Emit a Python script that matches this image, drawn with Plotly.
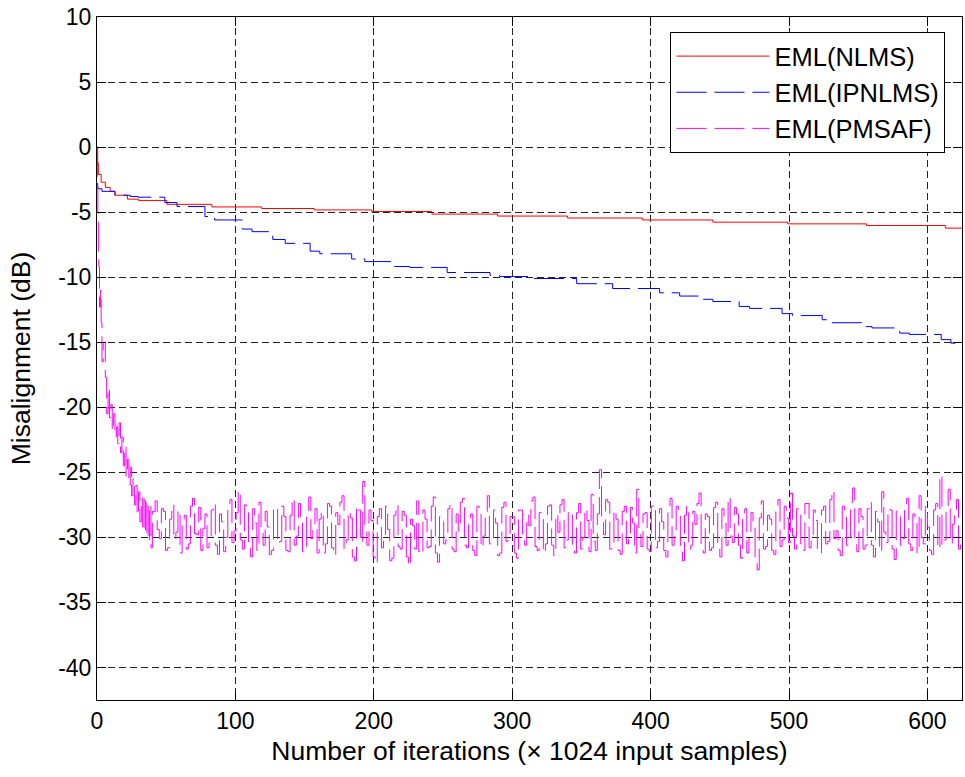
import plotly.graph_objects as go

# ---- data ----
nlms_x = [0, 0.5, 1, 3, 6, 9.5, 13, 22, 30, 50.5, 83, 119, 157, 198.5, 242, 289.5, 340, 394, 445, 499, 556, 613, 625]
nlms_y = [0, -1.2, -2.1, -2.7, -3.1, -3.4, -3.7, -4.0, -4.1, -4.4, -4.6, -4.72, -4.83, -4.95, -5.15, -5.3, -5.45, -5.6, -5.77, -5.9, -6.03, -6.23, -6.23]

ipnlms_x = [0, 0.5, 3.6, 13, 24, 29.6, 49, 57.8, 78, 85, 105, 112, 127, 136, 154, 161, 184, 193.5, 215, 226, 253, 284, 291,
            315, 346.6, 372.6, 406.5, 421, 437, 445, 464, 471.5, 495, 502.5, 524, 531, 553, 560, 580, 587, 610, 617, 625]
ipnlms_y = [-2.8, -3.2, -3.4, -3.7, -3.8, -3.85, -4.26, -4.57, -5.34, -5.6, -6.3, -6.5, -7.1, -7.4, -8.0, -8.2, -8.6, -8.8, -9.18,
            -9.25, -9.64, -9.87, -9.95, -10.1, -10.5, -10.87, -11.2, -11.45, -11.7, -11.87, -12.25, -12.4, -12.8, -12.95, -13.27,
            -13.5, -13.8, -13.9, -14.3, -14.4, -14.8, -15.07, -15.1]

pmsaf_early_x = [0, 0.3, 0.6, 1, 1.3, 1.8, 2.5, 3, 3.6, 4.5, 6, 7, 8, 9, 10, 11, 12, 13, 14, 15, 16, 17, 18, 19, 20,
                 21, 22, 23, 24, 25, 26, 27, 28, 29, 30, 31, 32, 33, 34, 35, 36, 37, 38, 39, 40]
pmsaf_early_y = [0, -3, -5, -8, -9.2, -12.3, -11, -13.5, -16.5, -15, -17.7, -20.5, -18.5, -20.8, -19.8, -21.8, -20.5,
                 -22.3, -21.5, -22.8, -21.2, -23.5, -22.3, -24.5, -23, -25.3, -24, -26, -24.6, -26.8, -25.5, -27.5,
                 -26, -28.3, -26.5, -28.8, -27, -29.5, -26.8, -29.8, -27.2, -30.3, -27.5, -30.8, -28]
# steady-state samples read at iterations 42, 45, ..., 624
pmsaf_steady_a_x = list(range(42, 625, 3))
pmsaf_steady_a_y = [
    -27.2, -30.1, -28.0, -30.8, -27.5, -29.6, -31.2, -28.3, -30.5, -27.0,
    -29.8, -31.0, -28.2, -30.4, -27.4, -31.3, -28.8, -30.0, -27.1, -29.5,
    -26.4, -30.9, -28.1, -31.5, -28.9, -27.3, -30.6, -29.2, -31.0, -27.8,
    -30.3, -28.4, -31.1, -27.0, -29.9, -28.6, -30.7, -26.9, -29.3, -31.2,
    -28.0, -30.5, -27.6, -31.4, -29.0, -26.8, -30.2, -28.5, -31.8, -27.9,
    -25.7, -30.6, -28.7, -32.0, -27.8, -30.3, -29.4, -31.6, -27.5, -30.9,
    -28.3, -32.2, -29.1, -27.2, -31.3, -28.6, -30.7, -26.9, -31.9, -28.8,
    -30.2, -27.4, -31.1, -29.5, -27.0, -30.8, -28.2, -31.4, -27.7, -29.9,
    -26.8, -30.4, -28.9, -31.2, -27.3, -30.0, -28.4, -31.6, -27.9, -30.6,
    -29.1, -26.9, -31.0, -28.3, -30.5, -27.5, -31.4, -29.6, -27.1, -30.2,
    -28.0, -31.2, -27.4, -30.0, -28.7, -26.7, -31.0, -24.8, -29.8, -27.3,
    -30.4, -28.6, -31.3, -27.6, -30.1, -28.9, -26.3, -30.7, -28.1, -31.1,
    -27.5, -30.3, -28.8, -31.5, -27.0, -29.9, -28.3, -31.8, -27.6, -30.6,
    -29.0, -26.6, -31.2, -28.4, -30.8, -27.3, -31.5, -28.9, -26.9, -30.4,
    -28.2, -31.6, -27.8, -30.1, -29.3, -32.5, -27.2, -30.7, -28.6, -31.3,
    -27.1, -30.2, -28.5, -26.6, -30.9, -28.1, -31.0, -27.4, -29.8, -28.7,
    -31.2, -27.6, -30.3, -26.4, -29.5, -31.4, -27.9, -30.0, -26.2, -31.1,
    -28.4, -30.6, -27.3, -31.5, -28.8, -26.5, -30.4, -27.9, -31.7, -28.2,
    -30.1, -27.0, -31.0, -28.6, -26.8, -30.5, -29.2, -31.3, -27.4, -25.2,
    -30.2, -26.3, -29.0, -27.1, -30.4,
]
# steady-state samples read at iterations 43.5, 46.5, ..., 622.5
pmsaf_steady_b_x = [v + 1.5 for v in range(42, 623, 3)]
pmsaf_steady_b_y = [
    -29.4, -27.8, -31.0, -28.6, -30.2, -27.9, -29.0, -30.9, -27.6, -29.7,
    -27.7, -29.3, -30.8, -27.9, -30.6, -28.2, -31.1, -27.6, -30.4, -28.1,
    -30.2, -27.5, -30.4, -27.8, -31.0, -29.6, -28.0, -31.3, -27.7, -30.5,
    -27.6, -31.0, -28.3, -30.6, -27.4, -31.1, -28.0, -30.1, -27.8, -28.6,
    -31.2, -27.4, -30.8, -28.1, -27.3, -30.9, -28.0, -31.5, -27.6, -30.4,
    -29.6, -27.9, -31.5, -28.4, -30.8, -27.6, -31.8, -28.3, -30.7, -28.0,
    -31.5, -28.6, -30.9, -31.1, -27.9, -30.8, -27.6, -31.2, -28.4, -30.5,
    -27.8, -30.9, -28.2, -27.3, -30.6, -28.5, -31.0, -27.6, -30.8, -28.1,
    -30.5, -27.9, -31.4, -27.7, -30.3, -28.4, -31.2, -27.9, -30.1, -28.3,
    -27.2, -30.7, -28.1, -31.2, -27.6, -30.6, -28.2, -27.5, -30.8, -28.0,
    -30.6, -28.1, -30.9, -27.8, -31.1, -30.3, -28.2, -28.6, -27.1, -30.9,
    -27.9, -31.0, -28.0, -30.5, -27.7, -31.2, -29.4, -28.2, -30.9, -27.6,
    -30.8, -27.8, -31.0, -28.1, -30.6, -27.6, -31.1, -28.3, -30.9, -28.0,
    -27.4, -30.7, -28.2, -31.0, -27.7, -30.5, -27.8, -30.6, -29.9, -27.7,
    -30.6, -28.4, -31.2, -28.1, -31.7, -28.5, -30.9, -28.3, -31.0, -27.8,
    -30.7, -27.6, -30.4, -29.9, -27.8, -30.5, -27.4, -30.8, -27.9, -30.9,
    -27.9, -30.5, -27.1, -30.1, -31.0, -27.6, -30.6, -27.3, -30.2, -27.8,
    -30.9, -27.8, -30.6, -28.0, -31.1, -29.6, -27.8, -30.9, -28.0, -30.6,
    -27.8, -30.5, -28.2, -31.2, -30.0, -27.6, -31.0, -27.9, -30.9, -30.6,
    -27.7, -30.5, -28.3, -30.9,
]

steady = sorted(zip(pmsaf_steady_a_x + pmsaf_steady_b_x, pmsaf_steady_a_y + pmsaf_steady_b_y))
pmsaf_x = pmsaf_early_x + [p[0] for p in steady]
pmsaf_y = pmsaf_early_y + [p[1] for p in steady]

x_ticks = [0, 100, 200, 300, 400, 500, 600]
y_ticks = [-40, -35, -30, -25, -20, -15, -10, -5, 0, 5, 10]
series_names = ["EML(NLMS)", "EML(IPNLMS)", "EML(PMSAF)"]

FONT = "Liberation Sans, Arial, Helvetica, sans-serif"

fig = go.Figure()
fig.add_trace(go.Scatter(x=nlms_x, y=nlms_y, mode="lines", name=series_names[0],
                         line=dict(color="#ff0000", width=1, shape="hv")))
fig.add_trace(go.Scatter(x=ipnlms_x, y=ipnlms_y, mode="lines", name=series_names[1],
                         line=dict(color="#0000ff", width=1, shape="hv", dash="30px,8px")))
fig.add_trace(go.Scatter(x=pmsaf_x, y=pmsaf_y, mode="lines", name=series_names[2],
                         line=dict(color="#ff00ff", width=1, shape="hv", dash="30px,8px")))

axis_common = dict(
    showline=True, linecolor="black", linewidth=1, mirror="ticks",
    ticks="inside", ticklen=9, tickcolor="black", tickwidth=1,
    showgrid=True, gridcolor="#222222", gridwidth=1, griddash="7px,4px",
    zeroline=False, tickfont=dict(family=FONT, size=23, color="black"),
)

fig.update_layout(
    width=965, height=777,
    margin=dict(l=97, r=3, t=17, b=77),
    paper_bgcolor="white", plot_bgcolor="white",
    font=dict(family=FONT, color="black"),
    showlegend=True,
    legend=dict(
        x=0.663, y=0.978, xanchor="left", yanchor="top",
        bgcolor="white", bordercolor="black", borderwidth=1,
        font=dict(family=FONT, size=25.5, color="black"),
        itemwidth=93, tracegroupgap=0,
    ),
    xaxis=dict(axis_common, range=[0, 625], tickvals=x_ticks,
               ticktext=[str(v) for v in x_ticks],
               title=dict(text="Number of iterations (\u00d7 1024 input samples)",
                          font=dict(family=FONT, size=26.5), standoff=8)),
    yaxis=dict(axis_common, range=[-42.5, 10], tickvals=y_ticks,
               ticktext=[str(v) for v in y_ticks],
               title=dict(text="Misalignment (dB)", font=dict(family=FONT, size=26.5), standoff=19)),
)

fig.write_html("out.html")
